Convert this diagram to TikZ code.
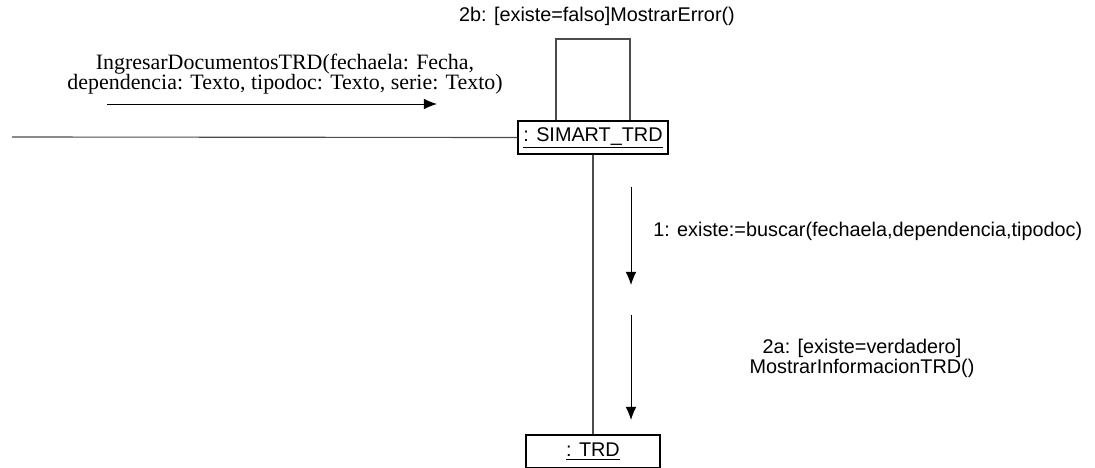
\documentclass[tikz,border=0pt]{standalone}
\usepackage{fontspec}
\setmainfont{Liberation Serif}
\setsansfont{Liberation Sans}
\usetikzlibrary{positioning}
\usetikzlibrary{calc}
\usetikzlibrary{arrows.meta}

\begin{document}
\begin{tikzpicture}[x=0.025cm, y=-0.025cm]
    \colorlet{link}{black!70}
\colorlet{frame}{black}

\newcommand\msgfont{\sffamily\fontsize{14.1}{14.2}\selectfont}
\newcommand\callfont{\rmfamily\fontsize{15.6}{14.6}\selectfont}

\tikzset{
    object/.style={
        draw=frame, line width=0.8pt, rectangle,
        minimum height=0.825cm,
        inner sep=0pt,
        font=\msgfont,
    },
    link line/.style={
        link, line width=0.8pt,
    },
    msg arrow/.style={
        black, line width=0.7pt,
        -{Latex[length=3.3mm, width=2.7mm]},
    },
}

    \useasboundingbox (0,0) rectangle (1095,467);

    \node[object, minimum width=3.75cm] at (593,137.5) (simart) {\underline{: SIMART\_TRD}};
    \node[object, minimum width=3.35cm] at (593,451.5) (trd) {\underline{: TRD}};

    % links between the objects
    \coordinate (actor) at (12,137);
    \draw[link line] (actor) -- (simart.west);
    \draw[link line] (simart.south) -- (trd.north);

    \coordinate (loop-l) at (556,39);
    \coordinate (loop-r) at (630,39);
    \draw[link line] (simart.north -| loop-l) -- (loop-l) -- (loop-r)
        -- (simart.north -| loop-r);

    % messages
    \coordinate (call-s) at (107,104);
    \coordinate (call-e) at (437,104);
    \draw[msg arrow] (call-s) -- (call-e);
    \node[align=center, font=\callfont] at (285,74) (call)
        {IngresarDocumentosTRD(fechaela: Fecha,\\dependencia: Texto, tipodoc: Texto, serie: Texto)};

    \node[font=\msgfont] at (597,16) (error) {2b: [existe=falso]MostrarError()};

    \coordinate (find-s) at (631,187);
    \coordinate (find-e) at (631,285);
    \draw[msg arrow] (find-s) -- (find-e);
    \node[font=\msgfont, anchor=west, inner sep=0pt] at (653,231) (find)
        {1: existe:=buscar(fechaela,dependencia,tipodoc)};

    \coordinate (show-s) at (631,315);
    \coordinate (show-e) at (631,420);
    \draw[msg arrow] (show-s) -- (show-e);
    \node[align=center, font=\msgfont] at (862,358) (show)
        {2a: [existe=verdadero]\\MostrarInformacionTRD()};
\end{tikzpicture}
\end{document}
